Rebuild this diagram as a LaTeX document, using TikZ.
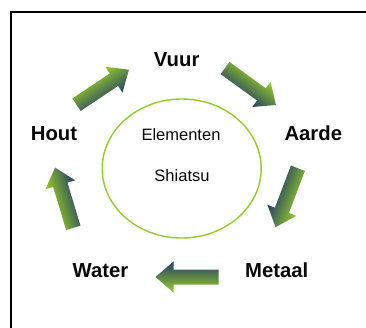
\documentclass[tikz,border=0pt]{standalone}
\usepackage{fontspec}
\setmainfont{Liberation Sans}
\usetikzlibrary{shapes.geometric}
\definecolor{arrgreen}{RGB}{152,206,40}
\definecolor{arrmid}{RGB}{106,160,56}
\definecolor{arrdark}{RGB}{36,62,102}
\definecolor{ringgreen}{RGB}{146,204,40}
\definecolor{labelblack}{RGB}{8,8,8}
\tikzset{
  elemlabel/.style={font=\fontsize{20.3}{24}\selectfont\bfseries, text=labelblack, anchor=base, inner sep=0pt},
  centertext/.style={font=\fontsize{16.5}{20}\selectfont, text=labelblack, anchor=base, inner sep=0pt},
  arrowshade/.style={top color=arrgreen, middle color=arrmid, bottom color=arrdark},
  ring/.style={draw=ringgreen, line width=1.4pt},
  frameline/.style={draw=black, line width=1.7pt}
}
\newcommand\elemarrow[3]{%
  \begin{scope}[transform canvas={shift={(#1)},rotate=#2}]
    \shade[arrowshade] (-31.5pt,7.5pt) -- (13.5pt,7.5pt) -- (13.5pt,15.5pt) -- (31.5pt,0pt)
      -- (13.5pt,-15.5pt) -- (13.5pt,-7.5pt) -- (-31.5pt,-7.5pt) -- cycle;
    \coordinate (#3) at (0,0);
  \end{scope}}
\begin{document}
\begin{tikzpicture}[x=1pt,y=-1pt]
  \useasboundingbox (0,0) rectangle (366,327);
  % frame
  \coordinate (fbl) at (11,328);
  \coordinate (ftl) at (11,12);
  \coordinate (ftr) at (367,12);
  \draw[frameline] (fbl) -- (ftl) -- (ftr);
  % centre ring
  \node[ring, ellipse, minimum width=159pt, minimum height=139pt, inner sep=0pt] (ring) at (181.7,168.5) {};
  \node[centertext] (elem) at (181,140.7) {Elementen};
  \node[centertext] (shia) at (182,181.5) {Shiatsu};
  % labels
  \node[elemlabel] (vuur) at (176.7,66.7) {Vuur};
  \node[elemlabel] (aarde) at (313.3,140.3) {Aarde};
  \node[elemlabel] (hout) at (54,140.3) {Hout};
  \node[elemlabel] (water) at (100.5,277.5) {Water};
  \node[elemlabel] (metaal) at (276.7,277.5) {Metaal};
  % arrows
  \elemarrow{102.7,87.2}{33.8}{a1}
  \elemarrow{250.5,86.5}{-36}{a2}
  \elemarrow{286.7,197.7}{-110.8}{a3}
  \elemarrow{187,277}{180}{a4}
  \elemarrow{64.2,197.7}{106.8}{a5}
\end{tikzpicture}
\end{document}
